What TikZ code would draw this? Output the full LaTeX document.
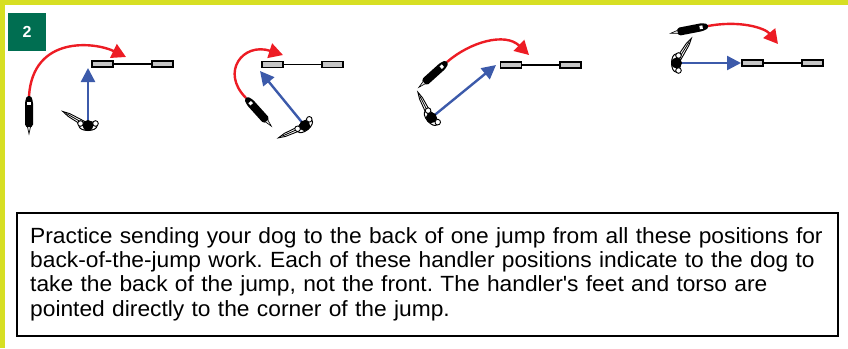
\documentclass[tikz,border=0pt]{standalone}
\usepackage{fontspec}
\setmainfont{Liberation Sans}
\newfontfamily\chughi[FakeStretch=1.035]{Liberation Sans}
\usepackage{xcolor}
\usetikzlibrary{positioning,arrows.meta}

\definecolor{mauvang}{RGB}{215,223,35}
\definecolor{mauxanhla}{RGB}{0,110,81}
\definecolor{maudo}{RGB}{237,28,36}
\definecolor{mauxanh}{RGB}{60,90,170}

\begin{document}
\frenchspacing
\begin{tikzpicture}[
	x=1pt, y=-1pt, % toạ độ theo điểm ảnh, trục y hướng xuống
	wing/.style={            % cọc hai bên của rào
		draw=black, fill=gray!45,
		line width=1.6pt,
		minimum width=21pt, minimum height=6pt,
		inner sep=0pt
	},
	bar/.style={black, line width=1.6pt},
	% --- Đường chạy của chó (đỏ, cong) ---
	dogpath/.style={
		maudo, line width=2.4pt,
		-{Triangle[length=14pt,width=15pt]}
	},
	% --- Hướng người dẫn chỉ (xanh, thẳng) ---
	send/.style={
		mauxanh, line width=2.4pt,
		-{Triangle[length=14pt,width=14pt]},
		shorten <=3pt
	},
	% con chó: đầu ở gốc toạ độ, thân chạy về phía -x
	pics/dog/.style={code={
		\fill[black, rounded corners=1.5pt] (0,-2.2) -- (-6,-4) -- (-30,-4) -- (-32,0)
			-- (-30,4) -- (-6,4) -- (0,2.2) -- cycle;
		\fill[white] (-5.5,-1.7) rectangle (-8.5,1.7);
		\draw[black, fill=gray!30, line width=0.6pt] (-31,-1.5) -- (-38,0) -- (-31,1.5);
	}},
	% người dẫn: #1 = hướng vai, #2 = hướng tay
	pics/handler/.style 2 args={code={
		\begin{scope}[rotate=#2]
			\draw[black, fill=white, line width=0.9pt] (3,-2.4) -- (22,-1.6) -- (29,0)
				-- (22,1.6) -- (3,2.4) -- cycle;
			\draw[black, line width=0.8pt] (5,0) -- (25,0);
		\end{scope}
		\begin{scope}[rotate=#1]
			\draw[black, fill=white, line width=1pt] (0,0) ellipse [x radius=4.5, y radius=9];
			\draw[black, fill=white, line width=0.9pt] (2.5,-7.5) circle [radius=2.8pt];
			\draw[black, fill=white, line width=0.9pt] (2.5,7.5) circle [radius=2.8pt];
			\fill[black] (0.5,0) circle [radius=5.5pt];
		\end{scope}
	}}
	]
	\useasboundingbox (0,0) rectangle (848,348);
	
	% --- Viền vàng ---
	\fill[mauvang] (0,0) rectangle (848,4.5);
	\fill[mauvang] (0,0) rectangle (4.5,348);
	
	% --- Số thứ tự ---
	\node[fill=mauxanhla, text=white, font=\bfseries\fontsize{16}{16}\selectfont,
		minimum size=38pt, inner sep=0pt] (so) at (27,32) {2};
	
	% --- HÌNH 1 ---
	\node[wing] (j1a) at (102.5,64) {};
	\node[wing] (j1b) at (162.5,64) {};
	\draw[bar] (j1a) -- (j1b);
	\coordinate (d1) at (29,96);
	\coordinate (r1) at (126,57);
	\coordinate (h1) at (88,126);
	\coordinate (t1) at (88,68);
	\draw[dogpath] (d1) .. controls (33,35) and (95,42) .. (r1);
	\draw[send] (h1) -- (t1);
	\pic[rotate=90] at (d1) {dog};
	\pic at (h1) {handler={90}{150}};
	
	% --- HÌNH 2 ---
	\node[wing] (j2a) at (272.5,64.5) {};
	\node[wing] (j2b) at (332.5,64.5) {};
	\draw[bar] (j2a) -- (j2b);
	\coordinate (d2) at (246,98);
	\coordinate (r2) at (283,55);
	\coordinate (h2) at (305,126);
	\coordinate (t2) at (260,71);
	\draw[dogpath] (d2) .. controls (220,72) and (243,42) .. (r2);
	\draw[send] (h2) -- (t2);
	\pic[rotate=132] at (d2) {dog};
	\pic at (h2) {handler={129}{204}};
	
	% --- HÌNH 3 ---
	\node[wing] (j3a) at (511,65) {};
	\node[wing] (j3b) at (570.5,65) {};
	\draw[bar] (j3a) -- (j3b);
	\coordinate (d3) at (447,62);
	\coordinate (r3) at (529,55);
	\coordinate (h3) at (431,118);
	\coordinate (t3) at (496,65);
	\draw[dogpath] (d3) .. controls (470,42) and (505,32) .. (r3);
	\draw[send] (h3) -- (t3);
	\pic[rotate=42] at (d3) {dog};
	\pic at (h3) {handler={40}{117}};
	
	% --- HÌNH 4 ---
	\node[wing] (j4a) at (752.5,63) {};
	\node[wing] (j4b) at (812.5,63) {};
	\draw[bar] (j4a) -- (j4b);
	\coordinate (d4) at (708,26);
	\coordinate (r4) at (778,44);
	\coordinate (h4) at (676,63);
	\coordinate (t4) at (741,63);
	\draw[dogpath] (d4) .. controls (740,20) and (765,28) .. (r4);
	\draw[send] (h4) -- (t4);
	\pic[rotate=11] at (d4) {dog};
	\pic at (h4) {handler={0}{58}};
	
	% --- Ghi chú ---
	\draw[black, line width=2pt] (17,213) rectangle (838,336);
	\node[anchor=base west, inner sep=0pt, text width=800pt, align=left,
		font=\chughi\fontsize{22}{24.2}\selectfont] (ghichu) at (30,243.5)
		{Practice sending your dog to the back of one jump from all these positions for\\
		back-of-the-jump work. Each of these handler positions indicate to the dog to\\
		take the back of the jump, not the front. The handler\textquotesingle s feet and torso are\\
		pointed directly to the corner of the jump.};
\end{tikzpicture}
\end{document}
